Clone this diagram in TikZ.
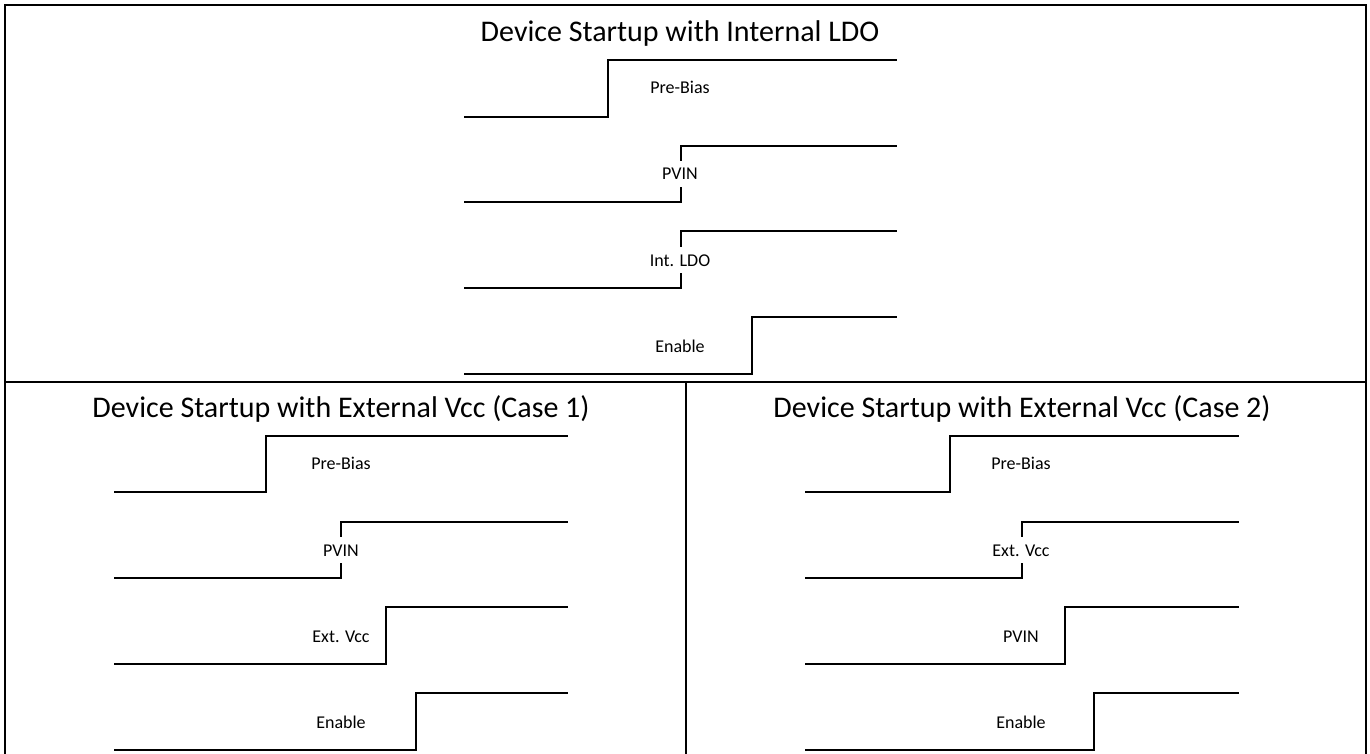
\documentclass[tikz,border=0pt]{standalone}
\usepackage{fontspec}
\setmainfont{Carlito}
\tikzset{
  frame/.style={line width=1.6pt},
  wave/.style={line width=2.4pt, line join=miter},
  lbl/.style={fill=white, anchor=base, inner xsep=1pt, inner ysep=3pt,
    text height=16pt, text depth=4pt, font=\fontsize{18}{21}\selectfont},
  ttl/.style={anchor=base, inner sep=0pt, font=\fontsize{30}{34}\selectfont}
}
\begin{document}
\begin{tikzpicture}[x=1pt,y=-1pt]
    \useasboundingbox (0,0) rectangle (1370,754);

    % Frame and dividers (open at the bottom)
    \draw[frame] (5,755) -- (5,5) -- (1366,5) -- (1366,755);
    \draw[frame] (5,382) -- (1366,382);
    \draw[frame] (686,382) -- (686,755);

    % Titles
    \node[ttl] (titleLDO) at (680,42) {Device Startup with Internal LDO};
    \node[ttl] (titleCaseA) at (341,417) {Device Startup with External Vcc (Case 1)};
    \node[ttl] (titleCaseB) at (1022,417) {Device Startup with External Vcc (Case 2)};

    % Internal LDO waveforms
    \draw[wave] (464,117) -| (608,60) -- (897,60);
    \draw[wave] (464,202) -| (681,146) -- (897,146);
    \draw[wave] (464,288) -| (681,231) -- (897,231);
    \draw[wave] (464,374) -| (752,317) -- (897,317);
    \node[lbl] (ldoBias) at (680,94) {Pre-Bias};
    \node[lbl] (ldoPvin) at (680,180) {PVIN};
    \node[lbl] (ldoInt) at (680,266) {Int. LDO};
    \node[lbl] (ldoEn) at (680,352) {Enable};

    % External Vcc, case 1
    \draw[wave] (114,492) -| (266,436) -- (568,436);
    \draw[wave] (114,578) -| (341,522) -- (568,522);
    \draw[wave] (114,664) -| (386,607) -- (568,607);
    \draw[wave] (114,750) -| (416,693) -- (568,693);
    \node[lbl] (caseABias) at (341,469) {Pre-Bias};
    \node[lbl] (caseAPvin) at (341,556) {PVIN};
    \node[lbl] (caseAExt) at (341,642) {Ext. Vcc};
    \node[lbl] (caseAEn) at (341,728) {Enable};

    % External Vcc, case 2
    \draw[wave] (805,492) -| (950,436) -- (1239,436);
    \draw[wave] (805,578) -| (1022,522) -- (1239,522);
    \draw[wave] (805,664) -| (1065,607) -- (1239,607);
    \draw[wave] (805,750) -| (1094,693) -- (1239,693);
    \node[lbl] (caseBBias) at (1021,469) {Pre-Bias};
    \node[lbl] (caseBExt) at (1021,556) {Ext. Vcc};
    \node[lbl] (caseBPvin) at (1021,642) {PVIN};
    \node[lbl] (caseBEn) at (1021,728) {Enable};
\end{tikzpicture}
\end{document}
